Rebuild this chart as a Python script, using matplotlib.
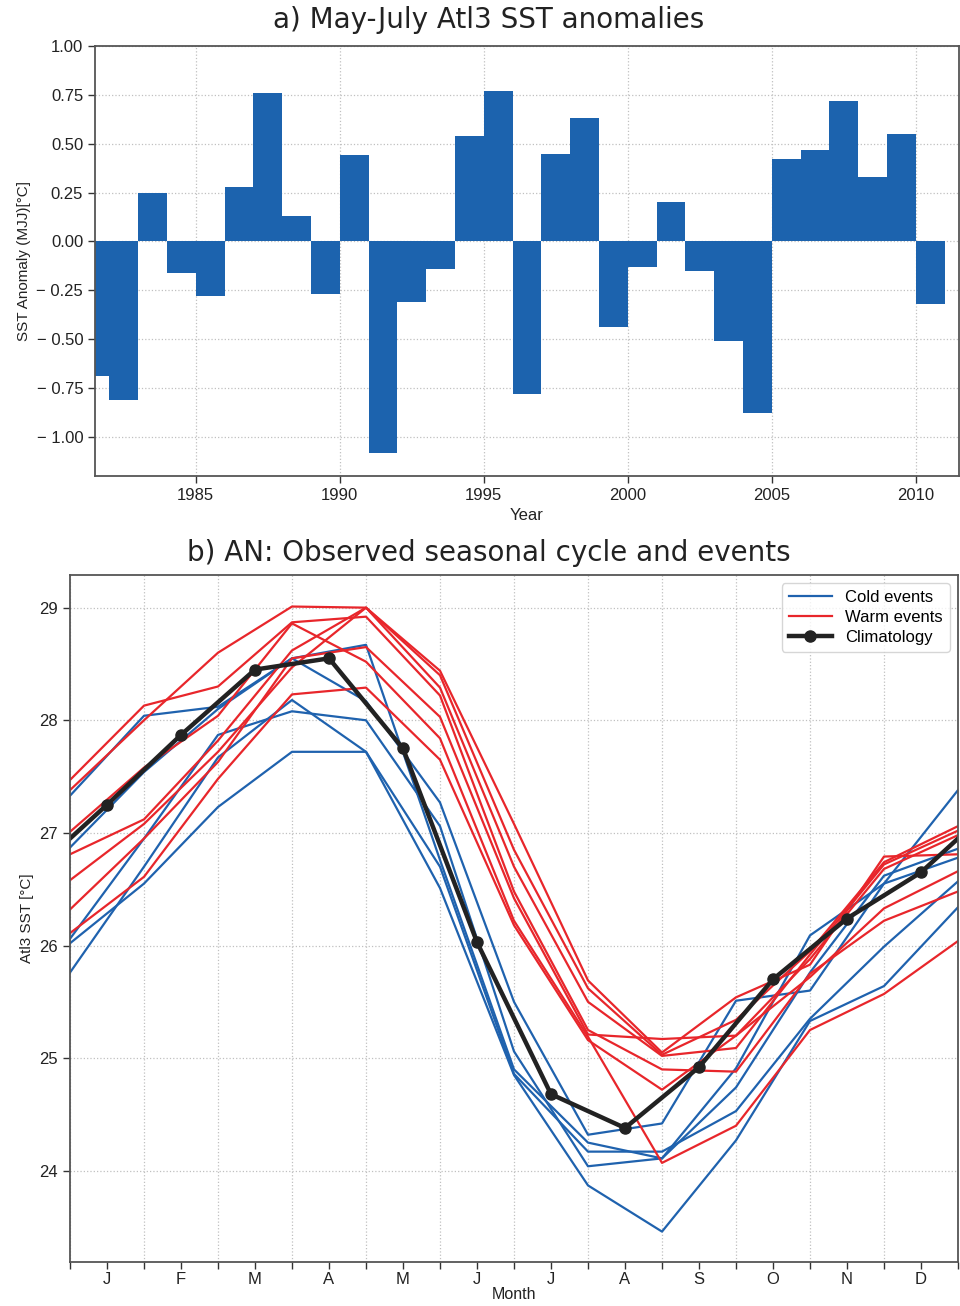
import matplotlib
matplotlib.use('Agg')
import matplotlib.pyplot as plt
import numpy as np

# ---- data ----
years = list(range(1981, 2011))
mjj_anom = [-0.69, -0.81, 0.25, -0.16, -0.28, 0.28, 0.76, 0.13, -0.27, 0.44,
            -1.08, -0.31, -0.14, 0.54, 0.77, -0.78, 0.45, 0.63, -0.44, -0.13,
            0.20, -0.15, -0.51, -0.88, 0.42, 0.47, 0.72, 0.33, 0.55, -0.32]

month_labels = ['J', 'F', 'M', 'A', 'M', 'J', 'J', 'A', 'S', 'O', 'N', 'D']
climatology = [27.25, 27.87, 28.45, 28.55, 27.75, 26.03,
               24.68, 24.38, 24.92, 25.70, 26.24, 26.65]

# event curves, values at month boundaries (13 points)
cold_events = [
    [27.33, 28.04, 28.12, 28.55, 28.67, 26.76, 24.90, 24.25, 24.11, 24.91, 26.09, 26.55, 27.38],
    [26.87, 27.54, 28.10, 28.55, 28.17, 27.27, 25.50, 24.32, 24.42, 25.51, 25.60, 26.55, 26.78],
    [25.76, 26.70, 27.67, 28.18, 27.72, 26.70, 24.86, 24.17, 24.17, 24.53, 25.35, 25.99, 26.57],
    [26.06, 26.95, 27.87, 28.08, 28.00, 27.06, 25.06, 24.04, 24.11, 24.74, 25.76, 26.62, 26.86],
    [26.02, 26.55, 27.23, 27.72, 27.72, 26.51, 24.85, 23.87, 23.46, 24.27, 25.33, 25.64, 26.34],
]
warm_events = [
    [27.47, 28.13, 28.30, 28.87, 28.92, 28.22, 26.48, 25.25, 24.90, 24.88, 25.75, 26.22, 26.48],
    [27.38, 28.00, 28.60, 29.01, 29.00, 28.44, 27.08, 25.69, 25.05, 25.54, 25.83, 26.79, 26.81],
    [27.01, 27.58, 28.04, 28.86, 28.52, 27.84, 26.22, 25.19, 24.07, 24.40, 25.25, 25.57, 26.04],
    [26.81, 27.12, 27.82, 28.62, 29.00, 28.40, 26.85, 25.62, 25.03, 25.34, 25.95, 26.74, 27.06],
    [26.58, 27.08, 27.72, 28.47, 29.00, 28.29, 26.70, 25.50, 25.02, 25.09, 25.92, 26.72, 27.02],
    [26.32, 26.95, 27.63, 28.55, 28.65, 28.03, 26.42, 25.21, 25.17, 25.20, 25.72, 26.33, 26.66],
    [26.11, 26.61, 27.48, 28.23, 28.29, 27.65, 26.18, 25.16, 24.72, 25.20, 25.88, 26.68, 26.98],
]

bar_color = '#1c63ae'
cold_color = '#1f62ae'
warm_color = '#e8262b'
spine_color = '#555555'

plt.rcParams['font.family'] = ['Liberation Sans', 'DejaVu Sans']
plt.rcParams['axes.axisbelow'] = True

fig = plt.figure(figsize=(9.6, 13.06), dpi=100)


def style_axes(ax):
    for sp in ax.spines.values():
        sp.set_color(spine_color)
        sp.set_linewidth(1.3)
    ax.tick_params(which='both', direction='out', length=5, width=1,
                   color='#333333', labelsize=12, labelcolor='#222222')
    ax.grid(True, which='major', linestyle=':', color='#c0c0c0', linewidth=0.9)


# ---- a) bars ----
ax1 = fig.add_axes([95 / 960, 1 - 476 / 1306, 864 / 960, 430 / 1306])
ax1.bar(years, mjj_anom, width=1.0, align='edge', color=bar_color)
ax1.set_xlim(1981.5, 2011.5)
ax1.set_ylim(-1.2, 1.0)
yt = np.arange(-1.0, 1.01, 0.25)
ax1.set_yticks(yt)
ax1.set_yticklabels([('\u2212 %.2f' % abs(v)) if v < 0 else '%.2f' % v for v in yt])
ax1.set_xticks(range(1985, 2011, 5))
ax1.set_xlabel('Year', fontsize=12, color='#222222')
ax1.set_ylabel('SST Anomaly (MJJ)[\u00b0C]', fontsize=11, color='#222222')
style_axes(ax1)
fig.text(489 / 960, 1 - 20 / 1306, 'a) May-July Atl3 SST anomalies',
         ha='center', va='center', fontsize=20, family='DejaVu Sans', color='#222222')

# ---- b) seasonal cycle ----
ax2 = fig.add_axes([70 / 960, 1 - 1262 / 1306, 888 / 960, 687 / 1306])
xb = np.arange(13)
for i, ev in enumerate(cold_events):
    ax2.plot(xb, ev, color=cold_color, lw=1.6, label='Cold events' if i == 0 else None)
for i, ev in enumerate(warm_events):
    ax2.plot(xb, ev, color=warm_color, lw=1.6, label='Warm events' if i == 0 else None)

# climatology wraps around the year
xc = np.arange(-1, 13) + 0.5
yc = [climatology[-1]] + climatology + [climatology[0]]
ax2.plot(xc, yc, color='#222222', lw=3.2, marker='o', markersize=8,
         label='Climatology')

ax2.set_xlim(0, 12)
ax2.set_ylim(23.19, 29.29)
ax2.set_yticks(range(24, 30))
ax2.set_xticks(xb)
ax2.set_xticklabels([])
ax2.set_xticks(np.arange(12) + 0.5, minor=True)
ax2.set_xticklabels(month_labels, minor=True)
ax2.set_ylabel('Atl3 SST [\u00b0C]', fontsize=11, color='#222222')
style_axes(ax2)
ax2.tick_params(axis='x', which='both', pad=2)
ax2.set_xlabel('Month', fontsize=11.5, color='#222222', labelpad=0)
leg = ax2.legend(loc='upper right', fontsize=12, frameon=True, fancybox=True,
                 handlelength=2.6, borderpad=0.4, labelspacing=0.3)
leg.get_frame().set_edgecolor('#cccccc')
fig.text(489 / 960, 1 - 553 / 1306, 'b) AN: Observed seasonal cycle and events',
         ha='center', va='center', fontsize=20, family='DejaVu Sans', color='#222222')

fig.savefig('out.png', dpi=100)
